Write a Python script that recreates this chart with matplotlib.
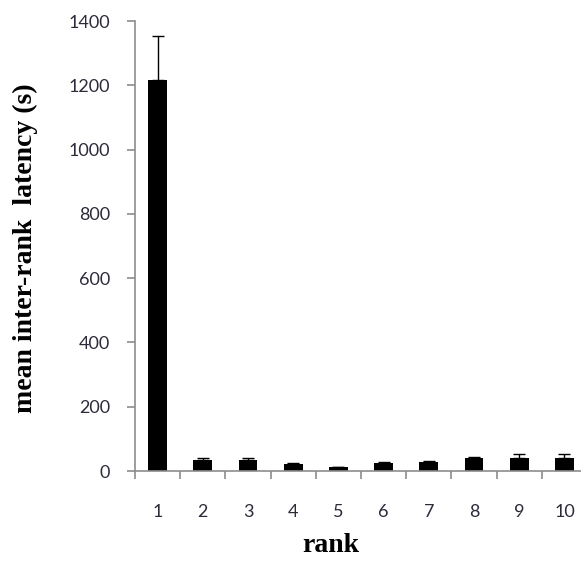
import matplotlib
matplotlib.use("Agg")
import matplotlib.pyplot as plt

# values
ranks = ["1", "2", "3", "4", "5", "6", "7", "8", "9", "10"]
latency = [1216, 35, 35, 23, 12, 25, 29, 40, 41, 41]
err_up = [138, 4, 4, 3, 2, 3, 3, 4, 13, 13]
y_ticks = [0, 200, 400, 600, 800, 1000, 1200, 1400]

W, H = 581, 564
fig = plt.figure(figsize=(W / 100, H / 100), dpi=100)
# axes run past the right edge, as in the cropped original
ax = fig.add_axes([135 / W, 1 - 471 / H, 452 / W, 450 / H])

pos = list(range(1, len(ranks) + 1))
ax.bar(pos, latency, width=0.42, color="black", zorder=2)
ax.errorbar(pos, latency, yerr=[[0] * len(err_up), err_up], fmt="none",
            ecolor="black", elinewidth=1.0, capsize=4, capthick=1.0, zorder=3)

ax.set_xlim(0.5, len(ranks) + 0.5)
ax.set_ylim(0, 1400)
ax.set_yticks(y_ticks)
ax.set_xticks(pos)
ax.set_xticklabels(ranks)
ax.set_xticks([p - 0.5 for p in pos] + [len(ranks) + 0.5], minor=True)

spine_c = "#8c8c8c"
for s in ["top", "right"]:
    ax.spines[s].set_visible(False)
for s in ["left", "bottom"]:
    ax.spines[s].set_color(spine_c)
    ax.spines[s].set_linewidth(1.2)

ax.tick_params(axis="x", which="major", length=0, pad=24)
ax.tick_params(axis="x", which="minor", length=6, width=1.2, color=spine_c, direction="out")
ax.tick_params(axis="y", length=6, width=1.2, color=spine_c, direction="out", pad=12)
for lab in ax.get_xticklabels() + ax.get_yticklabels():
    lab.set_fontfamily("Lato")
    lab.set_fontsize(13)
    lab.set_color("#2e2a3a")

fig.text(25 / W, 1 - 248 / H, "mean inter-rank  latency (s)", rotation=90,
         ha="center", va="center", family="Liberation Serif", weight="bold", fontsize=20)
fig.text(331 / W, 1 - 545 / H, "rank", ha="center", va="center",
         family="Liberation Serif", weight="bold", fontsize=20)

fig.savefig("out.png", dpi=100, facecolor="white")
